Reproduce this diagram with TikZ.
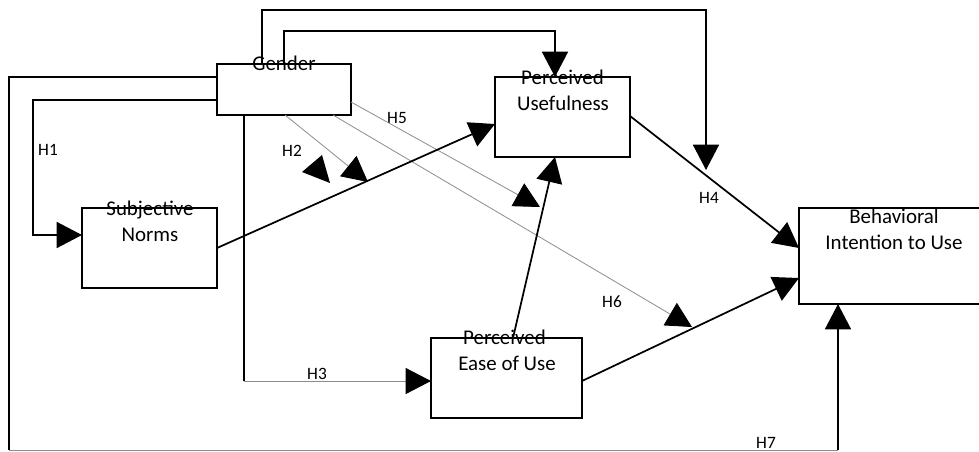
\documentclass[tikz,border=0pt]{standalone}
\usepackage{fontspec}
\setmainfont{Carlito}
\usetikzlibrary{arrows.meta,calc}
\begin{document}
\begin{tikzpicture}[x=0.75pt,y=-0.75pt,
  box/.style={draw, line width=1.2pt, inner sep=0pt, outer sep=0pt},
  thk/.style={line width=1.3pt},
  thn/.style={line width=0.6pt, draw=black!45},
  arr/.style={-{Triangle[length=19pt,width=19.5pt,color=black]}},
  txt/.style={font=\fontsize{15.7}{18}\selectfont, anchor=base, inner sep=0pt},
  hl/.style={font=\fontsize{13}{15}\selectfont, anchor=base, inner sep=0pt}]
\useasboundingbox (0,0) rectangle (979,451);
\clip (0,0) rectangle (979,451);

% boxes
\node[box, minimum width=100.5pt, minimum height=38.25pt] (g)  at (284,89.5) {};
\node[box, minimum width=101.25pt, minimum height=60pt]   (pu) at (562.5,117) {};
\node[box, minimum width=101.25pt, minimum height=60pt]   (sn) at (149.5,248) {};
\node[box, minimum width=113.25pt, minimum height=60pt]   (pe) at (506.5,378) {};
\node[box, minimum width=165pt, minimum height=72pt]      (bi) at (909,256) {};

% texts
\node[txt] (gt)  at (284,70) {Gender};
\node[txt] (put1) at (562.5,84) {Perceived};
\node[txt] (put2) at (563,110) {Usefulness};
\node[txt] (snt1) at (150,215) {Subjective};
\node[txt] (snt2) at (150,241) {Norms};
\node[txt] (pet1) at (504.5,344) {Perceived};
\node[txt] (pet2) at (507,370) {Ease of Use};
\node[txt] (bit1) at (894,223) {Behavioral};
\node[txt] (bit2) at (894,249) {Intention to Use};

% hypothesis labels
\node[hl] (h1) at (48,155) {H1};
\node[hl] (h2) at (292,156) {H2};
\node[hl] (h3) at (317,379) {H3};
\node[hl] (h4) at (709,203) {H4};
\node[hl] (h5) at (397,123) {H5};
\node[hl] (h6) at (612,307) {H6};
\node[hl] (h7) at (766,448) {H7};

% free ends
\coordinate (h4tip) at (706,170);
\coordinate (h2tip) at (368,182);
\coordinate (h5tip) at (540,207);
\coordinate (h6tip) at (692,327);
\coordinate (h3c) at (244,381);
\coordinate (bl) at (9,450);
\coordinate (br) at (838,450);

% gender connectors
\draw[thk,arr] ($(g.north west)+(45,0)$) -- ++(0,-54) -| (h4tip);
\draw[thk,arr] ($(g.north west)+(67,0)$) -- ++(0,-33) -| ($(pu.north west)+(60,0)$);
\draw[thk] ($(g.north west)+(0,13)$) -| (bl);
\draw[thn] (bl) -- (br);
\draw[thk,arr] (br) -- (br |- bi.south);
\draw[thk,arr] ($(g.north west)+(0,36)$) -- ++(-184,0) |- ($(sn.north west)+(0,27)$);
\draw[thk] ($(g.south west)+(27,0)$) -- (h3c);
\draw[thn,arr] (h3c) -- ($(pe.north west)+(0,43)$);
\draw[thn,arr] ($(g.south west)+(68,0)$) -- (h2tip);
\fill (302,172) -- (322,155) -- (330,183) -- cycle;
\draw[thn,arr] ($(g.south west)+(116,0)$) -- (h6tip);
\draw[thn,arr] ($(g.north east)+(0,38)$) -- (h5tip);

% main paths
\draw[thk,arr] ($(sn.north east)+(0,40)$) -- ($(pu.north west)+(0,47)$);
\draw[thk,arr] ($(pu.north east)+(0,39)$) -- ($(bi.north west)+(0,40)$);
\draw[thk,arr] ($(pe.north east)+(0,43)$) -- ($(bi.north west)+(0,70)$);
\draw[thk,arr] ($(pe.north west)+(82,0)$) -- ($(pu.south west)+(60,0)$);
\end{tikzpicture}
\end{document}
